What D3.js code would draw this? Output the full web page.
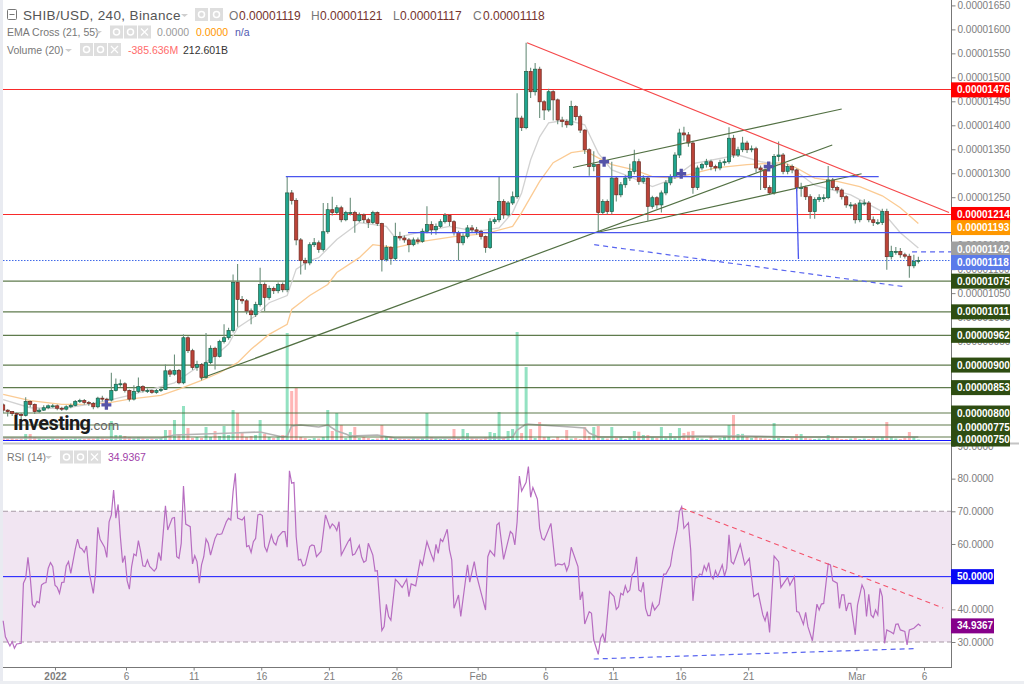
<!DOCTYPE html>
<html lang="en">
	<head>
		<meta charset="utf-8">
		<title>SHIB/USD, 240, Binance</title>
		<script src="https://cdn.jsdelivr.net/npm/d3@7"></script>
		<style type="text/css">
			html, body { margin: 0; padding: 0; background: #fff; overflow: hidden; }
			text { font-family: "Liberation Sans", Arial, sans-serif; }
		</style>
	</head>
	<body>
		<script type="text/javascript" charset="utf-8">

		//data, prices are in units of 0.00000001, one candle here stands for 8 hours
		var closes = [806,803,799,797,795,824,818,803,806,811,
			815,815,810,808,813,816,824,826,822,820,
			813,831,829,827,847,860,861,847,829,845,
			855,847,847,843,847,849,888,881,889,863,
			957,930,895,901,874,905,935,918,949,957,
			972,1072,1037,1034,1013,1005,1026,1068,1041,1060,
			1055,1068,1057,1259,1243,1161,1118,1113,1151,1155,
			1141,1178,1224,1218,1228,1203,1218,1218,1201,1213,
			1203,1197,1218,1195,1120,1145,1122,1168,1165,1161,
			1151,1161,1158,1179,1193,1182,1189,1199,1212,1199,
			1176,1155,1168,1186,1182,1179,1168,1145,1199,1203,
			1241,1213,1238,1251,1415,1395,1512,1470,1517,1449,
			1432,1470,1453,1411,1408,1401,1439,1418,1390,1349,
			1314,1318,1218,1241,1220,1290,1255,1276,1290,1304,
			1324,1283,1290,1231,1249,1234,1259,1280,1293,1338,
			1384,1380,1363,1270,1311,1318,1324,1314,1311,1322,
			1324,1373,1338,1349,1363,1349,1351,1311,1307,1270,
			1259,1335,1338,1304,1314,1307,1270,1270,1251,1220,
			1245,1249,1249,1286,1270,1265,1251,1234,1234,1203,
			1238,1238,1203,1197,1197,1220,1126,1137,1137,1130,
			1127,1107,1116,1118]
		var highs = [820,808,804,801,800,833,826,820,810,816,
			818,819,818,813,816,820,827,830,829,825,
			823,834,836,832,884,872,870,864,849,858,
			874,858,851,849,850,854,901,892,922,892,
			964,960,934,909,904,967,941,938,953,985,
			978,1089,1111,1044,1038,1018,1032,1103,1072,1066,
			1064,1072,1072,1292,1265,1248,1165,1124,1156,1165,
			1160,1238,1238,1251,1234,1232,1222,1249,1222,1218,
			1216,1207,1222,1220,1197,1150,1148,1197,1178,1170,
			1165,1166,1166,1185,1231,1200,1195,1204,1217,1214,
			1202,1180,1175,1192,1192,1188,1182,1170,1206,1208,
			1293,1246,1242,1262,1467,1420,1572,1520,1530,1522,
			1452,1476,1473,1456,1418,1412,1451,1442,1422,1392,
			1352,1346,1320,1246,1245,1324,1294,1282,1296,1320,
			1349,1330,1296,1292,1253,1252,1264,1286,1298,1344,
			1393,1397,1386,1368,1316,1322,1330,1328,1318,1328,
			1330,1396,1380,1355,1376,1368,1358,1355,1316,1310,
			1275,1340,1366,1342,1320,1318,1310,1280,1274,1256,
			1250,1256,1256,1315,1290,1274,1268,1254,1240,1238,
			1244,1246,1242,1210,1204,1226,1226,1149,1146,1144,
			1134,1132,1130,1126]
		var lows = [800,793,794,792,785,793,812,798,800,804,
			808,811,806,804,805,810,814,821,818,815,
			808,810,824,821,824,845,855,843,824,826,
			842,843,842,840,840,844,848,875,878,860,
			860,925,890,888,868,872,902,891,916,945,
			953,968,980,1028,1006,985,1000,1022,1013,1036,
			1048,1050,1052,1052,1235,1150,1089,1099,1108,1146,
			1134,1137,1174,1212,1214,1198,1200,1212,1176,1198,
			1196,1186,1194,1190,1095,1116,1109,1118,1160,1155,
			1135,1148,1152,1155,1175,1172,1172,1186,1195,1190,
			1170,1118,1150,1164,1176,1172,1162,1134,1142,1194,
			1198,1205,1210,1234,1247,1388,1392,1457,1462,1415,
			1411,1428,1410,1402,1396,1395,1399,1410,1384,1340,
			1295,1304,1178,1214,1214,1214,1241,1250,1270,1284,
			1298,1276,1278,1201,1226,1226,1218,1254,1275,1288,
			1332,1368,1355,1257,1265,1306,1312,1306,1304,1306,
			1316,1320,1332,1334,1344,1342,1344,1302,1265,1265,
			1255,1255,1325,1298,1298,1300,1262,1251,1244,1205,
			1205,1240,1240,1246,1265,1258,1245,1228,1226,1195,
			1198,1232,1198,1190,1192,1192,1099,1120,1130,1124,
			1122,1082,1102,1112]
		var volumes = [400,300,420,280,350,980,980,560,420,280,
			280,420,280,350,280,280,420,350,280,420,
			350,560,420,280,2800,840,840,700,560,420,
			560,420,280,350,280,420,1540,1540,2940,980,
			4900,1820,420,560,420,1960,560,1400,700,2100,
			840,4340,3920,1120,560,700,840,2940,980,560,
			420,560,840,15120,7000,7420,560,420,280,420,
			350,560,4340,1400,3920,2240,420,1260,1960,420,
			560,420,280,350,2240,700,560,420,350,280,
			280,420,350,420,3920,560,420,280,350,280,
			1680,420,1680,1120,420,350,280,560,1260,1120,
			4060,420,1400,1680,15260,1120,10360,1680,420,2660,
			560,560,280,560,280,1540,350,420,280,1960,
			700,1960,2100,420,350,1960,420,560,280,560,
			1400,1300,840,840,560,420,1960,420,1120,420,
			1820,1120,1300,1400,420,350,280,560,280,420,
			560,2240,3640,980,1000,560,420,640,420,350,
			280,2520,420,350,280,420,980,980,420,350,
			280,350,280,840,560,420,280,280,350,420,
			280,350,280,420,350,560,2660,560,350,280,
			420,1260,560,213]

		var emaSlowBars = [0,6,13,19,24,28,35,39,44,48,52,55,59,63,64,68,72,74,79,82,87,93,100,107,113,115,119,122,126,129,132,135,140,144,149,158,165,173,176,180,185,190,195,199,203]
		var emaSlow = [839,826,818,818,822,829,837,850,868,884,905,933,964,985,1016,1045,1068,1093,1124,1151,1145,1158,1168,1174,1189,1218,1283,1322,1343,1347,1332,1318,1307,1293,1290,1311,1318,1322,1311,1290,1283,1272,1253,1228,1195]
		var emaFastBars = [0,6,13,19,24,28,33,38,43,47,50,52,56,59,63,65,68,70,74,76,79,85,87,92,99,105,110,113,115,117,119,121,125,129,132,135,139,144,148,153,163,168,173,176,180,188,195,199,203]
		var emaFast = [828,811,809,818,828,837,850,863,895,919,944,978,1003,1030,1045,1100,1118,1124,1162,1176,1197,1189,1165,1176,1189,1179,1186,1218,1259,1328,1376,1405,1411,1401,1342,1307,1293,1272,1286,1320,1338,1324,1317,1303,1275,1255,1220,1176,1144]
		var volMaBars = [0,35,38,51,57,62,63,64,66,70,72,74,76,77,83,87,111,113,114,116,119,126,129,130,132,150,151,165,175,203]
		var volMa = [420,420,840,1120,1260,560,700,2100,2240,1960,2240,1400,980,700,840,420,420,560,1540,2380,2240,1960,1820,1120,560,560,700,700,560,560]

		var rsiBars = [0,1,3,4,5,6,8,9,10,11,12,13,14,15,16,17,18,19,20,21,22,23,24,25,26,27,28,29,30,32,33,34,35,36,37,38,40,41,42,43,45,46,47,48,49,50,51,52,53,54,55,56,57,58,59,60,61,62,63,64,65,67,68,69,70,72,73,75,76,77,78,79,80,81,83,84,85,86,87,88,89,90,91,92,94,95,96,97,99,100,101,102,103,104,106,107,108,109,110,111,112,113,114,115,116,117,119,120,121,122,124,125,126,127,128,129,130,131,132,133,134,136,137,138,139,141,143,145,146,147,148,149,150,
			153,154,155,156,158,159,160,161,162,164,165,166,168,169,170,171,172,174,175,177,179,180,181,183,185,186,188,190,191,192,193,194,195,197,198,199,200,202,203,206,207,209,210,212,214,215,216,218,219,220,222,225,226,227,228,229,230,232,233,234,235,237,238,239,240,241,243,245,246,248,249,250,251,252,255,256,257,258,260,261,262,264,265,266,267,269,271,272,273,274,275,276,277,278,279,280,281,282,283,284,285,286,287,288,289,291,293,294,296,297,299,300,301,
			302,304,305,306,307,308,309,310,311,312,313,314,315,316,317,319,320,321,322,323,324,327,329,331,333,335,337,338,339,340,342,344,345,348,349,351,352,353,355,356,357,359,361,362,363,364,366,367,368,370,371,372,373,374,375,376,378,379,381,382,383,384,385,386,387,388,389,390,391,392,394,395,396,397,398,400,401,402,404,406,407]
		var rsiValues = [36.5,31.6,28.8,30.1,28.1,29.4,29.6,48,49.5,55.9,50,41.5,40.7,42.4,42,47.4,48,48.2,52.6,54.3,53.1,47.4,46.7,44.9,48.2,48.3,53.3,54.6,51,58.4,61.5,58.9,58.5,57.4,59.4,52,44.9,51,65.1,61.4,59,55.9,66.8,68.9,76.5,67.9,72.1,62.2,54.3,56.4,48.8,46.2,53.1,56.9,56.4,61,57.7,53.3,53.1,55.1,53.1,51.7,52.6,57.4,54.9,71.7,64.3,67.9,68.1,56.1,55.6,60.2,77.7,66.1,65.3,53.9,56.4,54.6,48,53.6,56.1,61.5,60.2,56.6,61.7,63.1,62.9,63.1,66.8,67.9,67.3,76,81.6,67.9,67.3,68.2,59.2,59.5,57.4,60.7,61.7,68.9,69.1,68.7,59.2,57.7,62.8,60.5,59.7,62.2,63.8,63.8,59,82.4,78.6,78.8,62.2,55.1,55.3,53.3,53.6,59.2,59.7,59.5,56.1,57.7,68.9,64.8,66.1,65.5,64.1,66.8,56.6,
			60.7,61.7,56.6,56.9,59.6,56.1,54.4,54.9,60.2,56.6,51.7,51.8,33.5,34.7,41.5,37.8,36.7,49.2,48.5,46.7,49.2,43.9,47.8,47.2,54.9,53.6,60.7,56.6,54.9,59.9,57.1,61.5,60.7,64.5,58.2,55.1,40.3,44.4,37.8,53.6,48.3,54.6,50.5,45.1,39.8,56.1,58,56.3,65.8,66.5,55.3,63.8,63.1,59.7,66.8,80.8,76.2,78.9,83.7,74.3,77.3,73.7,64.8,61.7,61.2,62.8,66.3,53.3,53.9,53.6,54.1,51.8,53.6,59,53.1,42.9,45.4,35.5,39.3,38.8,30.6,26.2,31.1,32.4,29.9,45.4,43.9,40,40.8,44.9,44.4,47.2,45.2,45.9,50.5,51.5,56.1,45.9,45.4,48.3,40.3,38.1,38.1,41.8,39.8,41.6,50.8,50.8,53.3,57.7,64.3,69.9,71.4,
			64.8,66.5,58.2,42.6,49.5,49.8,50.8,50.5,53.3,51.8,54.3,50.2,49.3,51.8,50,53.6,50.2,52.6,62.8,54.6,53.9,59.9,53.6,55.6,43.9,44.9,38.3,36.5,39.3,32.9,56.3,54.6,46.7,49.8,47.4,50,39.3,39.1,35.4,39.1,34.7,30.4,41.6,39.8,41.6,41.8,53.9,53.6,48.8,48,40.3,44.4,44.4,39.5,41.8,41.8,32.2,41.3,47.5,45.9,37.8,44.6,38.3,37.5,39.8,38.3,46.4,43.9,29.6,33.7,33,32.5,35.4,35.5,33.7,33.2,29.1,33.7,34.2,35.5,34.9]

		// horizontal levels and axis ticks
		var priceTicks = d3.range(750, 1651, 50)
		var rsiTicks = [30,40,50,60,70,80,90]
		var redLevels = [1476,1214]
		var greenLevels = [1075,1011,962,900,853,800,775,750]
		var tickDates = [new Date(2021,11,31,18),new Date(2022,0,6),new Date(2022,0,11),new Date(2022,0,16),new Date(2022,0,21),new Date(2022,0,26),new Date(2022,1,1),new Date(2022,1,6),new Date(2022,1,11),new Date(2022,1,16),new Date(2022,1,21),new Date(2022,2,1),new Date(2022,2,6)]
		var tickLabels = ['2022','6','11','16','21','26','Feb','6','11','16','21','Mar','6']

		// drawn trend lines, [candle, price] ends
		var redTrend = [[116.2,1572],[209.8,1218]]
		var greenTrends = [[[43.8,872],[183.9,1359]],[[126.4,1312],[186,1434]],[[131.9,1177],[190.4,1299]]]
		var blueTrends = [[[62.7,1293],[194.2,1293]],[[89.8,1176],[210.7,1176]],[[176,1270],[176.4,1121]]]
		var blueDashed = [[[131.1,1151],[200.2,1063]],[[201.6,1136],[210.4,1136]]]
		var crossMarks = [[22.9,817],[133.3,1324],[150.4,1299],[169.8,1314]]
		// on the RSI panel, [4h bar, rsi] ends
		var rsiRedTrend = [[301,71],[417,40.4]]
		var rsiBlueTrend = [[262,24.8],[405,28]]

		// price flags on the right hand axis
		var flagValues = [1476,1214,1193,1142,1118,1075,1011,962,900,853,800,775,750]
		var flagColors = ['#ff0000','#ff0000','#ff9800','#a0a0a0','#5b7bea','#2e4d12','#2e4d12','#2e4d12','#2e4d12','#2e4d12','#2e4d12','#2e4d12','#2e4d12']
		var flagShift = [1,0,3,0,2,0,0,0,0,0,0,2,2]

		// header readout
		var ohlcKeys = ['O','H','L','C']
		var ohlcVals = ['0.00001119','0.00001121','0.00001117','0.00001118']

		var canvas = d3.select('body').append('svg').attr('width',1024).attr('height',684)
			.style('display','block')

		//////////////////////////////////////////////////////////////////////////
		///////////////////////////////// SCALES /////////////////////////////////
		//////////////////////////////////////////////////////////////////////////
		var x = d3.scaleTime().domain([new Date(2022,0,6),new Date(2022,2,6)]).range([126,924])
		var y = d3.scaleLinear().domain([750,1650]).range([437,5.4])
		var yVol = d3.scaleLinear().domain([0,15260]).range([441,332])
		var yRsi = d3.scaleLinear().domain([30,70]).range([642,511.3])

		var start = new Date(2021,11,27,22)
		function candleTime(i) { return new Date(+start + i*8*3600000) }
		function barTime(k) { return new Date(+start + k*4*3600000) }
		function fmtPrice(d) { return (d/1e8).toFixed(8) }

		var priceLine = d3.line().x(function(d) {return x(candleTime(d[0]))}).y(function(d) {return y(d[1])})
		var rsiLine = d3.line().x(function(d) {return x(barTime(d[0]))}).y(function(d) {return yRsi(d[1])})

		canvas.append('rect').attr('x',0).attr('y',0).attr('width',3).attr('height',684).attr('fill','#e9ebf1')
		canvas.append('rect').attr('x',0).attr('y',681).attr('width',1024).attr('height',3).attr('fill','#eceef2')

		var defs = canvas.append('defs')
		defs.append('clipPath').attr('id','mainClip').append('rect')
			.attr('x',3).attr('y',0).attr('width',948.5).attr('height',442)

		//////////////////////////////////////////////////////////////////////////
		/////////////////////////////// MAIN PANEL ///////////////////////////////
		//////////////////////////////////////////////////////////////////////////
		var main = canvas.append('g').attr('clip-path','url(#mainClip)')

		// volume underneath everything
		main.selectAll('rect.vol').data(volumes).enter().append('rect')
			.attr('class','vol')
			.attr('x',function(d,i) {return x(candleTime(i))-1.5})
			.attr('y',function(d) {return yVol(d)})
			.attr('width',3)
			.attr('height',function(d) {return yVol(0)-yVol(d)})
			.attr('fill',function(d,i) {return closes[i] >= (i ? closes[i-1] : 817) ? '#93e2c2' : '#ffb6b6'})

		main.append('path')
			.datum(volMa.map(function(d,i) {return [volMaBars[i],d]}))
			.attr('d',d3.line().x(function(d) {return x(candleTime(d[0]))}).y(function(d) {return yVol(d[1])}))
			.attr('fill','none')
			.attr('stroke','#b3b3b3')
			.attr('stroke-width',1.6)

		main.selectAll('line.red').data(redLevels).enter().append('line')
			.attr('class','red')
			.attr('x1',3).attr('x2',951)
			.attr('y1',function(d) {return Math.round(y(d))+0.5})
			.attr('y2',function(d) {return Math.round(y(d))+0.5})
			.attr('stroke','#f82a2a')

		main.selectAll('line.green').data(greenLevels).enter().append('line')
			.attr('class','green')
			.attr('x1',3).attr('x2',951)
			.attr('y1',function(d) {return y(d)})
			.attr('y2',function(d) {return y(d)})
			.attr('stroke','#44642f')
			.attr('stroke-width',1.2)
			.attr('opacity',0.85)

		// last price line
		main.append('line')
			.attr('x1',3).attr('x2',951)
			.attr('y1',y(1118)).attr('y2',y(1118))
			.attr('stroke','#3f68e8')
			.attr('stroke-dasharray','1.5,1.5')

		// bottom blue line of the volume pane
		main.append('line')
			.attr('x1',3).attr('x2',951)
			.attr('y1',440.5).attr('y2',440.5)
			.attr('stroke','#1414ff')

		main.append('path')
			.datum(emaSlow.map(function(d,i) {return [emaSlowBars[i],d]}))
			.attr('d',priceLine)
			.attr('fill','none')
			.attr('stroke','#fbcb94')
			.attr('stroke-width',1.3)

		main.append('path')
			.datum(emaFast.map(function(d,i) {return [emaFastBars[i],d]}))
			.attr('d',priceLine)
			.attr('fill','none')
			.attr('stroke','#d2d2d2')
			.attr('stroke-width',1.3)

		// candles
		var candles = main.selectAll('g.candle').data(closes).enter().append('g').attr('class','candle')

		candles.append('line')
			.attr('x1',function(d,i) {return x(candleTime(i))})
			.attr('x2',function(d,i) {return x(candleTime(i))})
			.attr('y1',function(d,i) {return y(highs[i])})
			.attr('y2',function(d,i) {return y(lows[i])})
			.attr('stroke','#6b8f7c')
			.attr('stroke-width',1.1)

		candles.append('rect')
			.attr('x',function(d,i) {return x(candleTime(i))-1.6})
			.attr('y',function(d,i) {return y(Math.max(d, i ? closes[i-1] : 817))})
			.attr('width',3.2)
			.attr('height',function(d,i) {return Math.max(1,Math.abs(y(d)-y(i ? closes[i-1] : 817)))})
			.attr('fill',function(d,i) {return d >= (i ? closes[i-1] : 817) ? '#1fa58f' : '#bb4338'})
			.attr('stroke',function(d,i) {return d >= (i ? closes[i-1] : 817) ? '#1f5f45' : '#6f2a22'})
			.attr('stroke-width',0.7)

		// trend lines
		main.selectAll('path.gtrend').data(greenTrends).enter().append('path')
			.attr('class','gtrend')
			.attr('d',priceLine)
			.attr('stroke','#527043')
			.attr('stroke-width',1.2)
			.attr('fill','none')

		main.selectAll('path.btrend').data(blueTrends).enter().append('path')
			.attr('class','btrend')
			.attr('d',priceLine)
			.attr('stroke','#4a55ee')
			.attr('stroke-width',1.3)
			.attr('fill','none')

		main.selectAll('path.bdash').data(blueDashed).enter().append('path')
			.attr('class','bdash')
			.attr('d',priceLine)
			.attr('stroke','#5a66f0')
			.attr('stroke-width',1.2)
			.attr('stroke-dasharray','5,4')
			.attr('fill','none')

		main.append('path')
			.datum(redTrend)
			.attr('d',priceLine)
			.attr('stroke','#f5484a')
			.attr('stroke-width',1.2)
			.attr('fill','none')

		main.selectAll('path.cross').data(crossMarks).enter().append('path')
			.attr('class','cross')
			.attr('d',d3.symbol().type(d3.symbolCross).size(55))
			.attr('transform',function(d) {return 'translate('+x(candleTime(d[0]))+','+y(d[1])+')'})
			.attr('fill','#5553a8')

		// investing logo
		canvas.append('text').attr('x',13).attr('y',429.5).text('Investing')
			.attr('font-size',20).attr('font-weight','bold').attr('fill','#1c1c1c')
			.attr('letter-spacing',-0.6)
			.style('font-family','Roboto, Arial, sans-serif')
		canvas.append('text').attr('x',90).attr('y',429.5).text('.com')
			.attr('font-size',13).attr('fill','#666')
			.style('font-family','Roboto, Arial, sans-serif')

		//////////////////////////////////////////////////////////////////////////
		//////////////////////////////// RSI PANEL ///////////////////////////////
		//////////////////////////////////////////////////////////////////////////
		var rsiPanel = canvas.append('g')

		rsiPanel.append('rect')
			.attr('x',3).attr('width',948)
			.attr('y',yRsi(70)).attr('height',yRsi(30)-yRsi(70))
			.attr('fill','#f1e5f2')

		rsiPanel.selectAll('line.band').data([70,30]).enter().append('line')
			.attr('class','band')
			.attr('x1',3).attr('x2',951)
			.attr('y1',function(d) {return yRsi(d)})
			.attr('y2',function(d) {return yRsi(d)})
			.attr('stroke','#a89aa6')
			.attr('stroke-width',1.1)
			.attr('stroke-dasharray','5,3')

		rsiPanel.append('line')
			.attr('x1',3).attr('x2',951)
			.attr('y1',yRsi(50)).attr('y2',yRsi(50))
			.attr('stroke','#1414ff')

		rsiPanel.append('path')
			.datum(rsiValues.map(function(d,i) {return [rsiBars[i],d]}))
			.attr('d',rsiLine)
			.attr('fill','none')
			.attr('stroke','#b76dc1')
			.attr('stroke-width',1.2)

		rsiPanel.append('path')
			.datum(rsiRedTrend)
			.attr('d',rsiLine)
			.attr('fill','none')
			.attr('stroke','#f4526b')
			.attr('stroke-width',1.1)
			.attr('stroke-dasharray','5,4')

		rsiPanel.append('path')
			.datum(rsiBlueTrend)
			.attr('d',rsiLine)
			.attr('fill','none')
			.attr('stroke','#5a66f0')
			.attr('stroke-width',1.2)
			.attr('stroke-dasharray','5,4')

		//////////////////////////////////////////////////////////////////////////
		////////////////////////////////// AXES //////////////////////////////////
		//////////////////////////////////////////////////////////////////////////
		var priceAxis = canvas.append('g').attr('transform','translate(951.5,0)')
			.call(d3.axisRight(y).tickValues(priceTicks).tickFormat(fmtPrice).tickSize(4).tickPadding(2))
		var rsiAxis = canvas.append('g').attr('transform','translate(951.5,0)')
			.call(d3.axisRight(yRsi).tickValues(rsiTicks).tickFormat(function(d) {return d.toFixed(4)}).tickSize(4).tickPadding(2))
		var timeAxis = canvas.append('g').attr('transform','translate(0,667.5)')
			.call(d3.axisBottom(x).tickValues(tickDates).tickFormat(function(d,i) {return tickLabels[i]}).tickSize(3).tickPadding(2))

		;[priceAxis,rsiAxis,timeAxis].forEach(function(a) {
			a.selectAll('.domain').remove()
			a.selectAll('line').attr('stroke','#808080')
			a.selectAll('text').attr('fill','#7d7d7d').attr('font-size',10)
		})
		timeAxis.selectAll('text').filter(function(d,i) {return i == 0}).attr('font-weight','bold')

		canvas.append('line').attr('x1',951.5).attr('x2',951.5).attr('y1',0).attr('y2',668).attr('stroke','#777')
		canvas.append('line').attr('x1',3).attr('x2',951.5).attr('y1',667.5).attr('y2',667.5).attr('stroke','#777')
		canvas.append('rect').attr('x',3).attr('y',442.5).attr('width',1016).attr('height',2).attr('fill','#c4c4c4')

		// flags on the axis
		var flags = canvas.selectAll('g.flag').data(flagValues).enter().append('g')
			.attr('class','flag')
			.attr('transform',function(d,i) {return 'translate(951,'+(y(d)+flagShift[i])+')'})
		flags.append('rect')
			.attr('x',0).attr('y',-7.5).attr('width',59).attr('height',15)
			.attr('fill',function(d,i) {return flagColors[i]})
		flags.append('text')
			.attr('x',6).attr('y',3.6)
			.attr('font-size',10).attr('font-weight','bold').attr('fill','#fff')
			.text(fmtPrice)

		var rsiFlagValues = [50,34.9367]
		var rsiFlagColors = ['#0808f5','#86008a']
		var rsiFlags = canvas.selectAll('g.rsiflag').data(rsiFlagValues).enter().append('g')
			.attr('class','rsiflag')
			.attr('transform',function(d) {return 'translate(951,'+yRsi(d)+')'})
		rsiFlags.append('rect')
			.attr('x',0).attr('y',-7.5).attr('width',43).attr('height',15)
			.attr('fill',function(d,i) {return rsiFlagColors[i]})
		rsiFlags.append('text')
			.attr('x',6).attr('y',3.6)
			.attr('font-size',10).attr('font-weight','bold').attr('fill','#fff')
			.text(function(d) {return d.toFixed(4)})

		//////////////////////////////////////////////////////////////////////////
		///////////////////////////////// LEGENDS ////////////////////////////////
		//////////////////////////////////////////////////////////////////////////
		function label(px, py, str, size, color) {
			return canvas.append('text').attr('x',px).attr('y',py).text(str)
				.attr('font-size',size).attr('fill',color)
		}
		function caret(px, py) {
			canvas.append('path').attr('d','M'+px+','+py+'l7,0l-3.5,3z').attr('fill','#cfcfcf')
		}
		function iconBox(px, py, kind) {
			canvas.append('rect').attr('x',px).attr('y',py-6.5).attr('width',13).attr('height',13).attr('fill','#dedede')
			if (kind == 'x') {
				canvas.append('path').attr('d','M'+(px+3)+','+(py-3.5)+'l7,7m0,-7l-7,7').attr('stroke','#fff').attr('stroke-width',1.2)
			} else {
				canvas.append('circle').attr('cx',px+6.5).attr('cy',py).attr('r',3).attr('fill','none').attr('stroke','#fff').attr('stroke-width',1.5)
			}
		}

		canvas.append('rect').attr('x',7.5).attr('y',9.5).attr('width',9).attr('height',10).attr('rx',1).attr('fill','none').attr('stroke','#777')
		canvas.append('line').attr('x1',9.5).attr('x2',14.5).attr('y1',14.5).attr('y2',14.5).attr('stroke','#777')
		label(23,19.5,'SHIB/USD, 240, Binance',13.5,'#555').attr('letter-spacing',0.35)
		caret(181,14)
		iconBox(195,14.5); iconBox(210,14.5)
		var ohlcX = [229,311,393,473]
		var ohlcGap = [10,9,7,10]
		ohlcKeys.forEach(function(k,i) {
			label(ohlcX[i],19.5,k,12,'#777')
			label(ohlcX[i]+ohlcGap[i],19.5,ohlcVals[i],12,'#74332d')
		})

		label(7,36,'EMA Cross (21, 55)',10.5,'#777')
		caret(95,31)
		iconBox(110,32); iconBox(124,32); iconBox(138,32,'x')
		label(157,36,'0.0000',10.5,'#9a9a9a')
		label(196,36,'0.0000',10.5,'#ff9800')
		label(235,36,'n/a',10.5,'#5158b0')

		label(7,53.5,'Volume (20)',10.5,'#777')
		caret(65,49)
		iconBox(80,49.5); iconBox(94,49.5); iconBox(108,49.5,'x')
		label(128,53.5,'-385.636M',10.5,'#ff6b6b')
		label(183,53.5,'212.601B',10.5,'#333')

		label(7,461,'RSI (14)',10.5,'#777')
		caret(45,456)
		iconBox(60,457); iconBox(74,457); iconBox(88,457,'x')
		label(108,461,'34.9367',10.5,'#a040a8')

		</script>
	</body>

</html>
